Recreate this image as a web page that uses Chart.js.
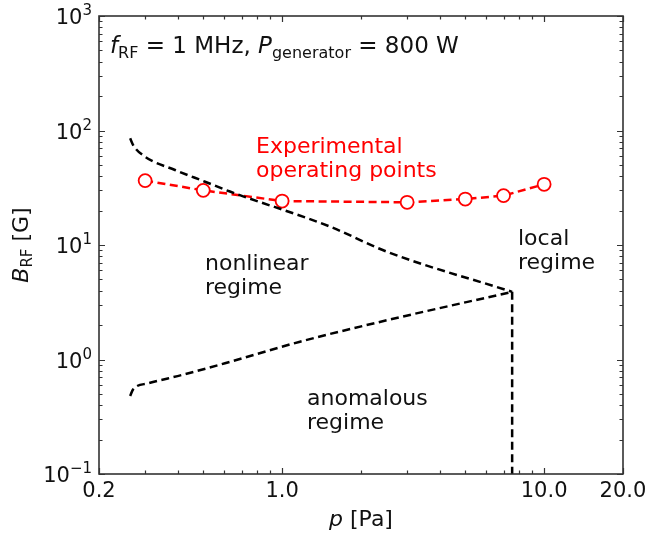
<!DOCTYPE html>
<html>
<head>
<meta charset="utf-8">
<script src="https://cdn.jsdelivr.net/npm/chart.js@4.4.1/dist/chart.umd.min.js"></script>
<style>
    html, body { margin: 0; padding: 0; background: #fff; }
    #wrap { width: 647px; height: 533px; }
</style>
</head>
<body>
<div id="wrap"><canvas id="chart" width="647" height="533"></canvas></div>
<script>
// Experimental operating points (p in Pa, B_RF in G)
const expPressure = [0.3, 0.5, 1.0, 3.0, 5.0, 7.0, 10.0];
const expField = [36.5, 30.0, 24.2, 23.6, 25.2, 27.0, 33.9];

// Upper boundary (nonlinear / local)
const upperPressure = [0.263, 0.270, 0.300, 0.390, 0.508, 0.632, 1.52, 2.51, 7.55];
const upperField = [85.5, 74.6, 59.0, 45.2, 35.7, 29.3, 14.5, 8.74, 3.9];

// Lower boundary (nonlinear / anomalous)
const lowerPressure = [0.263, 0.270, 0.308, 0.414, 0.605, 1.17, 2.30, 7.55];
const lowerField = [0.48, 0.549, 0.619, 0.732, 0.927, 1.43, 2.10, 3.9];

// Vertical boundary (anomalous / local)
const wallPressure = [7.55, 7.55];
const wallField = [3.9, 0.1];

// Axis ticks
const xTickValues = [0.2, 1, 10, 20];
const xTickLabels = ['0.2', '1.0', '10.0', '20.0'];
const xMinorValues = [0.3, 0.4, 0.5, 0.6, 0.7, 0.8, 0.9, 2, 3, 4, 5, 6, 7, 8, 9];
const yTickExponents = [-1, 0, 1, 2, 3];

const toPoints = (xs, ys) => xs.map((x, i) => ({ x: x, y: ys[i] }));

const FONT = '"DejaVu Sans", sans-serif';

// draw a run of text pieces (for sub/superscripts)
function drawRuns(ctx, runs, x, y, align) {
    let total = 0;
    runs.forEach(r => {
        ctx.font = (r.italic ? 'italic ' : '') + r.size + 'px ' + FONT;
        r.w = ctx.measureText(r.t).width;
        total += r.w;
    });
    let cx = x;
    if (align === 'right') cx = x - total;
    else if (align === 'center') cx = x - total / 2;
    ctx.textAlign = 'left';
    ctx.textBaseline = 'alphabetic';
    runs.forEach(r => {
        ctx.font = (r.italic ? 'italic ' : '') + r.size + 'px ' + FONT;
        ctx.fillText(r.t, cx, y + (r.dy || 0));
        cx += r.w;
    });
}

const framePlugin = {
    id: 'frame',
    afterDraw(chart) {
        const ctx = chart.ctx;
        const area = chart.chartArea;
        const xs = chart.scales.x;
        const ys = chart.scales.y;
        ctx.save();

        // frame
        ctx.strokeStyle = '#333';
        ctx.lineWidth = 1.6;
        ctx.strokeRect(area.left, area.top, area.right - area.left, area.bottom - area.top);

        // inward ticks on all four sides
        ctx.lineWidth = 1.2;
        const majorLen = 6, minorLen = 3.5;
        function xTick(v, len) {
            const px = Math.round(xs.getPixelForValue(v)) + 0.5;
            ctx.beginPath();
            ctx.moveTo(px, area.bottom); ctx.lineTo(px, area.bottom - len);
            ctx.moveTo(px, area.top); ctx.lineTo(px, area.top + len);
            ctx.stroke();
        }
        function yTick(v, len) {
            const py = Math.round(ys.getPixelForValue(v)) + 0.5;
            ctx.beginPath();
            ctx.moveTo(area.left, py); ctx.lineTo(area.left + len, py);
            ctx.moveTo(area.right, py); ctx.lineTo(area.right - len, py);
            ctx.stroke();
        }
        xTickValues.forEach(v => xTick(v, majorLen));
        xMinorValues.forEach(v => xTick(v, minorLen));
        yTickExponents.forEach(e => {
            yTick(Math.pow(10, e), majorLen);
            if (e < 3) {
                for (let k = 2; k <= 9; k++) yTick(k * Math.pow(10, e), minorLen);
            }
        });

        // tick labels
        ctx.fillStyle = '#111';
        ctx.font = '21px ' + FONT;
        ctx.textAlign = 'center';
        ctx.textBaseline = 'alphabetic';
        xTickValues.forEach((v, i) => {
            ctx.fillText(xTickLabels[i], xs.getPixelForValue(v), area.bottom + 23);
        });
        yTickExponents.forEach(e => {
            const py = ys.getPixelForValue(Math.pow(10, e));
            const sup = e < 0 ? '\u2212' + Math.abs(e) : String(e);
            drawRuns(ctx, [
                { t: '10', size: 21 },
                { t: sup, size: 15, dy: -9 }
            ], area.left - 7, py + 8, 'right');
        });

        // axis titles
        drawRuns(ctx, [
            { t: 'p', size: 22, italic: true },
            { t: ' [Pa]', size: 22 }
        ], (area.left + area.right) / 2, 526, 'center');

        ctx.save();
        ctx.translate(28, (area.top + area.bottom) / 2);
        ctx.rotate(-Math.PI / 2);
        drawRuns(ctx, [
            { t: 'B', size: 22, italic: true },
            { t: 'RF', size: 15, dy: 4 },
            { t: ' [G]', size: 22 }
        ], 0, 0, 'center');
        ctx.restore();

        // condition text
        drawRuns(ctx, [
            { t: 'f', size: 23, italic: true },
            { t: 'RF', size: 16, dy: 5 },
            { t: ' = 1 MHz, ', size: 23 },
            { t: 'P', size: 23, italic: true },
            { t: 'generator', size: 16, dy: 5 },
            { t: ' = 800 W', size: 23 }
        ], 110, 53, 'left');

        // region labels
        ctx.font = '22px ' + FONT;
        ctx.textAlign = 'left';
        ctx.fillStyle = '#111';
        ctx.fillText('nonlinear', 205, 270);
        ctx.fillText('regime', 205, 294);
        ctx.fillText('local', 518, 245);
        ctx.fillText('regime', 518, 269);
        ctx.fillText('anomalous', 307, 405);
        ctx.fillText('regime', 307, 429);
        ctx.fillStyle = '#ff0000';
        ctx.fillText('Experimental', 256, 153);
        ctx.fillText('operating points', 256, 177);

        ctx.restore();
    }
};

const blackDash = {
    borderColor: '#000',
    borderWidth: 2.5,
    borderDash: [8, 4.5],
    pointRadius: 0,
    fill: false,
    cubicInterpolationMode: 'monotone'
};

new Chart(document.getElementById('chart'), {
    type: 'line',
    data: {
        datasets: [
            Object.assign({ label: 'upper', data: toPoints(upperPressure, upperField) }, blackDash),
            Object.assign({ label: 'lower', data: toPoints(lowerPressure, lowerField) }, blackDash),
            Object.assign({ label: 'wall', data: toPoints(wallPressure, wallField) }, blackDash, { cubicInterpolationMode: 'default' }),
            {
                label: 'Experimental operating points',
                data: toPoints(expPressure, expField),
                borderColor: '#ff0000',
                borderWidth: 2.5,
                borderDash: [8, 4.5],
                pointRadius: 6.5,
                pointBorderWidth: 1.8,
                pointBorderColor: '#ff0000',
                pointBackgroundColor: '#fff',
                fill: false,
                tension: 0
            }
        ]
    },
    options: {
        responsive: false,
        animation: false,
        layout: { padding: { left: 99, right: 24, top: 16, bottom: 59 } },
        plugins: {
            legend: { display: false },
            tooltip: { enabled: false }
        },
        scales: {
            x: { type: 'logarithmic', min: 0.2, max: 20, display: false },
            y: { type: 'logarithmic', min: 0.1, max: 1000, display: false }
        }
    },
    plugins: [framePlugin]
});
</script>
</body>
</html>
